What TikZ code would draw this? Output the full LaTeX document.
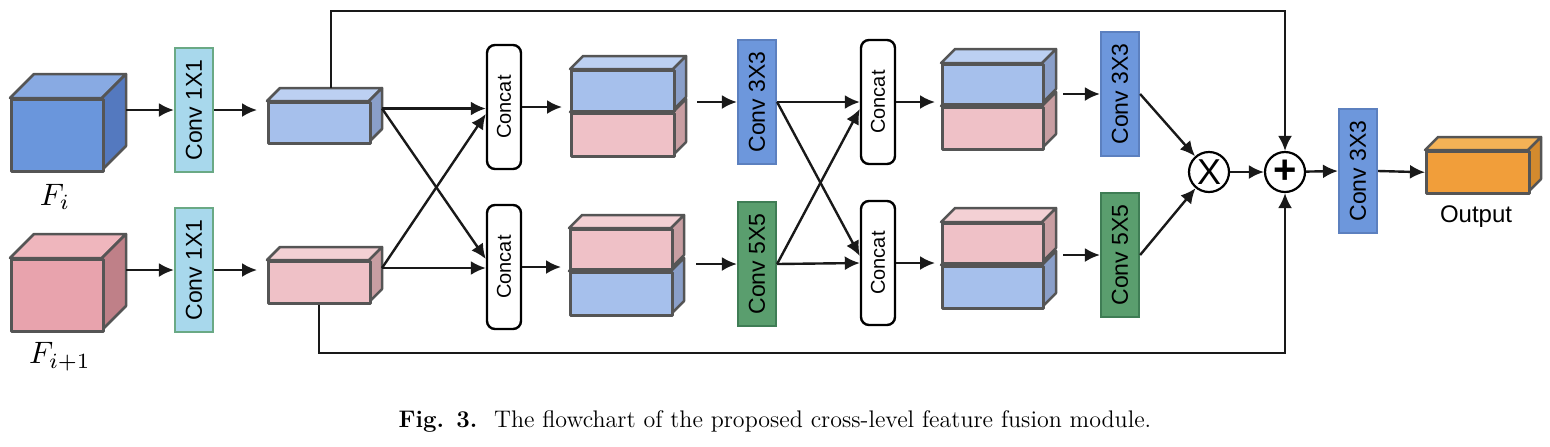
\documentclass[tikz,border=0pt]{standalone}
\usepackage{graphicx}
\usepackage{fontspec}
\setsansfont{Liberation Sans}
\usetikzlibrary{arrows.meta,calc}

\definecolor{bigblueF}{HTML}{6A96DC}
\definecolor{bigblueT}{HTML}{88AAE3}
\definecolor{bigblueS}{HTML}{5479BF}
\definecolor{bigpinkF}{HTML}{E8A3AD}
\definecolor{bigpinkT}{HTML}{EFB6BD}
\definecolor{bigpinkS}{HTML}{BF8088}
\definecolor{lblueF}{HTML}{A6C0EC}
\definecolor{lblueT}{HTML}{BCD0F2}
\definecolor{lblueS}{HTML}{8A9FC9}
\definecolor{lpinkF}{HTML}{EFC1C7}
\definecolor{lpinkT}{HTML}{F3D0D4}
\definecolor{lpinkS}{HTML}{C89EA2}
\definecolor{orangeF}{HTML}{F19E3A}
\definecolor{orangeT}{HTML}{F4B256}
\definecolor{orangeS}{HTML}{D38A2E}
\definecolor{cubeedge}{HTML}{555555}
\definecolor{convAfill}{HTML}{A8D8EC}
\definecolor{convAline}{HTML}{6AA985}
\definecolor{convBfill}{HTML}{6D97DC}
\definecolor{convBline}{HTML}{5C80BF}
\definecolor{convCfill}{HTML}{5A9E6E}
\definecolor{convCline}{HTML}{3F7D55}

% name, x, y (front top left), width, height, depth, colour
\newcommand{\cuboid}[7]{%
  \filldraw[cubeline, fill=#7T] (#2,#3) -- ++(#6,-#6) -- ++(#4,0) -- ++(-#6,#6) -- cycle;
  \filldraw[cubeline, fill=#7S] ({#2+#4},#3) -- ++(#6,-#6) -- ++(0,#5) -- ++(-#6,#6) -- cycle;
  \node[cubeline, draw, fill=#7F, minimum width=#4*0.5pt, minimum height=#5*0.5pt,
        inner sep=0pt, anchor=north west] (#1) at (#2,#3) {};
  \coordinate (#1-e) at ({#2+#4+#6},{#3+#5/2-#6});
  \coordinate (#1-n) at ({#2+#4/2+#6},{#3-#6});
}

\tikzset{
  cubeline/.style={draw=cubeedge, line width=1.25pt, line join=round},
  convbox/.style={draw, line width=1.1pt, minimum width=19pt, minimum height=62pt,
                  inner sep=0pt, font=\sffamily\fontsize{11.5}{13}\selectfont},
  convA/.style={convbox, fill=convAfill, draw=convAline},
  convB/.style={convbox, fill=convBfill, draw=convBline},
  convC/.style={convbox, fill=convCfill, draw=convCline},
  concatbox/.style={draw, line width=1.2pt, rounded corners=4pt, fill=white,
                    minimum width=17pt, minimum height=62pt, inner sep=0pt,
                    font=\sffamily\fontsize{10}{12}\selectfont},
  opcircle/.style={circle, draw, line width=1.1pt, minimum size=20pt, inner sep=0pt},
  arr/.style={-{Latex[length=7.5pt,width=7pt]}, line width=1.2pt, draw=black!90}
}

\begin{document}
\begin{tikzpicture}[x=0.5pt, y=-0.5pt]
  \useasboundingbox (0,0) rectangle (1550,446);

  % inputs
  \cuboid{Fi}{10}{98}{92}{72}{24}{bigblue}
  \cuboid{Fj}{10}{258}{92}{72}{24}{bigpink}
  \node (lblFi) at (55,197) {\scalebox{1.55}{$F_i$}};
  \node (lblFj) at (60,357) {\scalebox{1.55}{$F_{i+1}$}};

  \node[convA] (c1a) at (194,110) {\rotatebox{90}{Conv 1X1}};
  \node[convA] (c1b) at (194,270) {\rotatebox{90}{Conv 1X1}};

  \cuboid{fa}{267}{101}{102}{41}{13}{lblue}
  \cuboid{fb}{267}{260}{102}{42}{13}{lpink}

  % first cross
  \node[concatbox] (cat1a) at (504,107) {\rotatebox{90}{Concat}};
  \node[concatbox] (cat1b) at (504,267) {\rotatebox{90}{Concat}};

  \cuboid{s1b}{570}{112}{103}{43}{13}{lpink}
  \cuboid{s1a}{570}{69}{103}{41}{13}{lblue}
  \cuboid{s1d}{569}{271}{102}{43}{13}{lblue}
  \cuboid{s1c}{569}{228}{102}{40}{13}{lpink}

  \node[convB] (c3a) at (757,102) {\rotatebox{90}{Conv 3X3}};
  \node[convC] (c5a) at (757,264) {\rotatebox{90}{Conv 5X5}};

  % second cross
  \node[concatbox] (cat2a) at (878,102) {\rotatebox{90}{Concat}};
  \node[concatbox] (cat2b) at (878,263) {\rotatebox{90}{Concat}};

  \cuboid{s2b}{941}{106}{101}{42}{14}{lpink}
  \cuboid{s2a}{941}{63}{101}{40}{14}{lblue}
  \cuboid{s2d}{941}{265}{101}{42}{14}{lblue}
  \cuboid{s2c}{941}{222}{101}{40}{14}{lpink}

  \node[convB] (c3b) at (1120,94) {\rotatebox{90}{Conv 3X3}};
  \node[convC] (c5b) at (1120,255) {\rotatebox{90}{Conv 5X5}};

  % fusion
  \node[opcircle, font=\sffamily\fontsize{18}{18}\selectfont] (mul) at (1209,172) {X};
  \node[opcircle, font=\sffamily\bfseries\fontsize{20}{20}\selectfont] (add) at (1285,172) {+};
  \node[convB] (c3c) at (1358,171) {\rotatebox{90}{Conv 3X3}};
  \cuboid{out}{1425}{150}{103}{42}{13}{orange}
  \node[font=\sffamily\fontsize{12}{14}\selectfont] (lblout) at (1476,217) {Output};

  \coordinate (ytop) at (0,11);
  \coordinate (ybot) at (0,353);

  % connectors
  \draw[arr] (Fi-e) -- (c1a.west);
  \draw[arr] (Fj-e) -- (c1b.west);
  \draw[arr, shorten >=5pt] (c1a.east) -- (c1a.east -| fa.west);
  \draw[arr, shorten >=5pt] (c1b.east) -- (c1b.east -| fb.west);

  \draw[arr] (fa-e) -- (fa-e -| cat1a.west);
  \draw[arr] (fa-e) -- ($(cat1b.west)+(0,-8)$);
  \draw[arr] (fb-e) -- (fb-e -| cat1b.west);
  \draw[arr] (fb-e) -- ($(cat1a.west)+(0,7)$);

  \draw[arr, shorten >=4pt] (cat1a.east) -- (cat1a.east -| s1a.west);
  \draw[arr, shorten >=4pt] (cat1b.east) -- (cat1b.east -| s1c.west);
  \draw[arr, shorten <=5.5pt] (s1a-e |- c3a.west) -- (c3a.west);
  \draw[arr, shorten <=6pt] (s1c-e |- c5a.west) -- (c5a.west);

  \draw[arr] (c3a.east) -- (cat2a.west);
  \draw[arr] (c3a.east) -- ($(cat2b.west)+(0,-7)$);
  \draw[arr] (c5a.east) -- (cat2b.west);
  \draw[arr] (c5a.east) -- ($(cat2a.west)+(0,7)$);

  \draw[arr, shorten >=3pt] (cat2a.east) -- (cat2a.east -| s2a.west);
  \draw[arr, shorten >=3pt] (cat2b.east) -- (cat2b.east -| s2c.west);
  \draw[arr, shorten <=3.5pt] (s2a-e |- c3b.west) -- (c3b.west);
  \draw[arr, shorten <=3.5pt] (s2c-e |- c5b.west) -- (c5b.west);

  \draw[arr] (c3b.east) -- (mul);
  \draw[arr] (c5b.east) -- (mul);
  \draw[arr] (mul) -- (add);
  \draw[arr] (fa-n) -- (fa-n |- ytop) -| (add.north);
  \draw[arr] (fb.south) -- (fb.south |- ybot) -| (add.south);
  \draw[arr] (add) -- (c3c.west);
  \draw[arr] (c3c.east) -- (out.west);

  % caption
  \node (cap) at (775,421) {\fontsize{12}{14}\selectfont\textbf{Fig. 3.}\hspace{0.7em}The flowchart of the proposed cross-level feature fusion module.};
\end{tikzpicture}
\end{document}
